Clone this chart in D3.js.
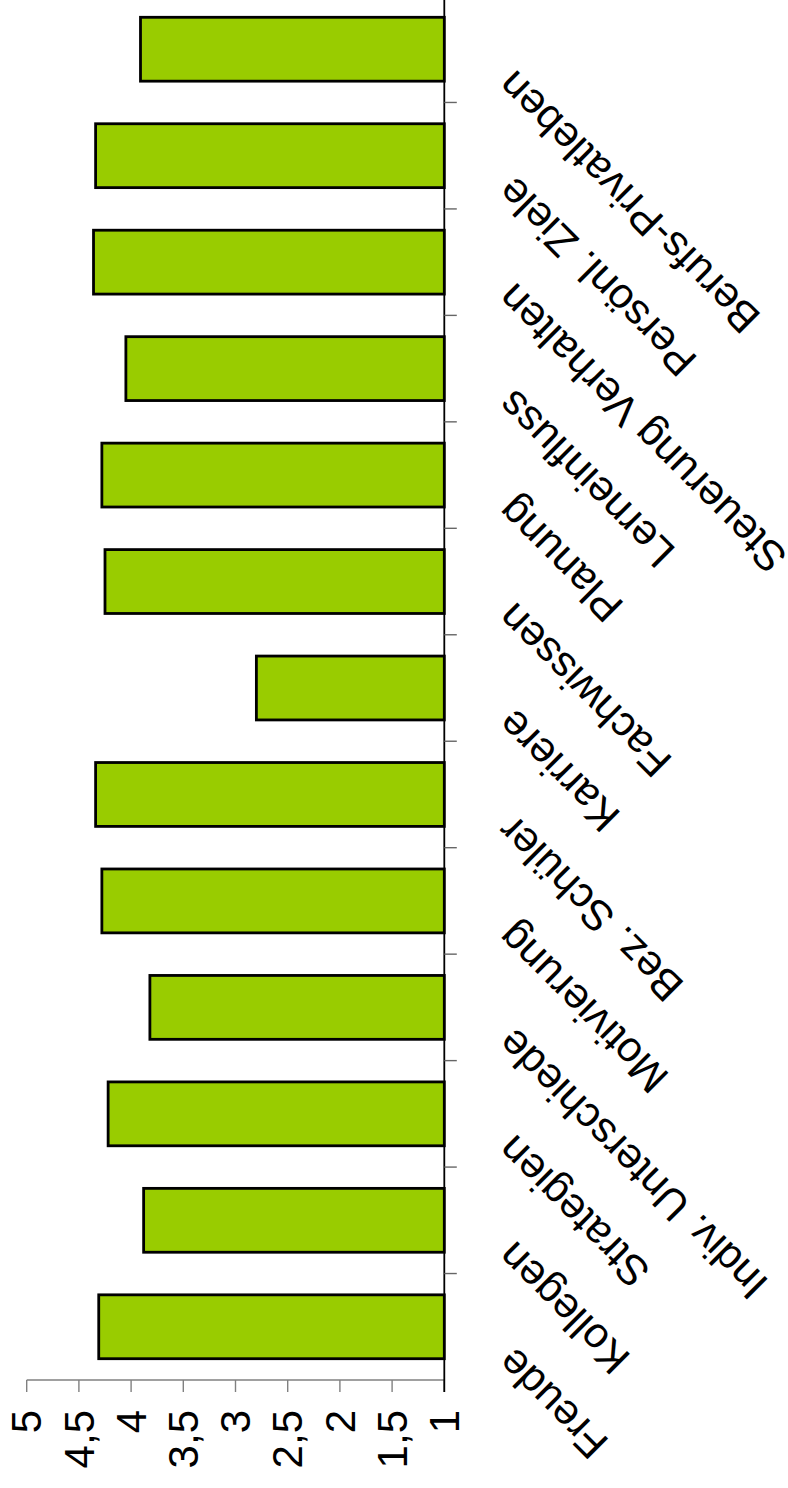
<!DOCTYPE html>
<html lang="de">
<head>
<meta charset="UTF-8">
<title>Mittelwerte</title>
<script src="https://d3js.org/d3.v7.min.js"></script>
<style>
  body { margin: 0; background: #fff; }
  text { font-family: "Liberation Sans", Arial, sans-serif; }
</style>
</head>
<body>
<div id="my_dataviz"></div>
<script>
  // categories and mean values (scale 1..5)
  var categories = ["Freude", "Kollegen", "Strategien", "Indiv. Unterschiede", "Motivierung",
    "Bez. Schüler", "Karriere", "Fachwissen", "Planung", "Lerneinfluss",
    "Steuerung Verhalten", "Persönl. Ziele", "Berufs-Privatleben"];
  var values = [4.31, 3.88, 4.22, 3.82, 4.28, 4.34, 2.80, 4.25, 4.28, 4.05, 4.36, 4.34, 3.91];
  var yTicks = [1, 1.5, 2, 2.5, 3, 3.5, 4, 4.5, 5];

  var pageW = 788, pageH = 1488;

  // the chart is laid out as a normal column chart, then turned by -90deg
  var svg = d3.select("#my_dataviz")
    .append("svg")
      .attr("width", pageW)
      .attr("height", pageH);

  var g = svg.append("g")
    .attr("transform", "translate(0," + pageH + ") rotate(-90)");

  var x = d3.scaleBand()
    .domain(categories)
    .range([108, 1492])
    .paddingInner(0.4)
    .paddingOuter(0.2);

  var y = d3.scaleLinear()
    .domain([1, 5])
    .range([444.3, 26.7]);

  var step = x.step();

  // bars
  g.selectAll("rect.bar")
    .data(categories)
    .enter()
    .append("rect")
      .attr("class", "bar")
      .attr("x", function(d) { return x(d); })
      .attr("width", x.bandwidth())
      .attr("y", function(d, i) { return y(values[i]); })
      .attr("height", function(d, i) { return y(1) - y(values[i]); })
      .attr("fill", "#99CC00")
      .attr("stroke", "#000")
      .attr("stroke-width", 2.8);

  // value axis (left in chart coords)
  var x0 = x.range()[0];
  g.append("line")
    .attr("x1", x0).attr("x2", x0)
    .attr("y1", y(5)).attr("y2", y(1))
    .attr("stroke", "#808080")
    .attr("stroke-width", 1.4);

  g.selectAll("line.ytick")
    .data(yTicks)
    .enter()
    .append("line")
      .attr("class", "ytick")
      .attr("x1", x0 - 12).attr("x2", x0)
      .attr("y1", function(d) { return y(d); })
      .attr("y2", function(d) { return y(d); })
      .attr("stroke", "#808080")
      .attr("stroke-width", 1.4);

  g.selectAll("text.ylab")
    .data(yTicks)
    .enter()
    .append("text")
      .attr("class", "ylab")
      .attr("x", x0 - 30)
      .attr("y", function(d) { return y(d); })
      .attr("dy", "0.35em")
      .attr("text-anchor", "end")
      .attr("font-size", "42px")
      .attr("fill", "#000")
      .text(function(d) { return String(d).replace(".", ","); });

  // category axis (bottom in chart coords)
  g.append("line")
    .attr("x1", x0 - 12).attr("x2", x.range()[1])
    .attr("y1", y(1)).attr("y2", y(1))
    .attr("stroke", "#000")
    .attr("stroke-width", 1.8);

  var xTicks = categories.slice(1).map(function(d) { return x(d) - step * x.paddingInner() / 2; });
  g.selectAll("line.xtick")
    .data(xTicks)
    .enter()
    .append("line")
      .attr("class", "xtick")
      .attr("x1", function(d) { return d; })
      .attr("x2", function(d) { return d; })
      .attr("y1", y(1)).attr("y2", y(1) + 12.5)
      .attr("stroke", "#666")
      .attr("stroke-width", 1.4);

  g.selectAll("text.xlab")
    .data(categories)
    .enter()
    .append("text")
      .attr("class", "xlab")
      .attr("transform", function(d) {
        var cx = x(d) + x.bandwidth() / 2 - 19;
        return "translate(" + cx + "," + (y(1) + 71) + ") rotate(-45)";
      })
      .attr("text-anchor", "end")
      .attr("font-size", "42.5px")
      .attr("fill", "#000")
      .text(function(d) { return d; });
</script>
</body>
</html>
